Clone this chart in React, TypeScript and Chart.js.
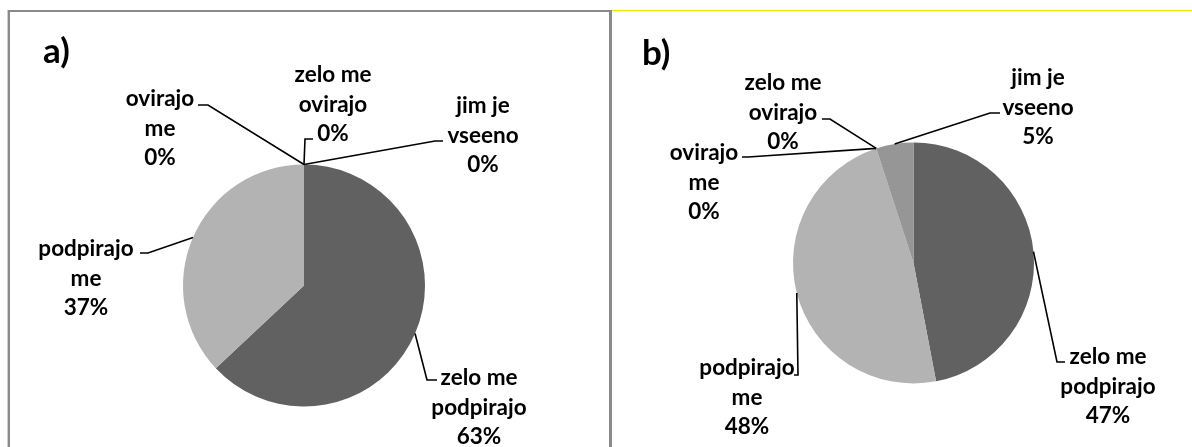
import React, { useEffect, useRef } from 'react';
import { Chart, registerables } from 'chart.js';

Chart.register(...registerables);

// ---- data ----
const categories = ['zelo me podpirajo', 'podpirajo me', 'ovirajo me', 'zelo me ovirajo', 'jim je vseeno'];
const categoryLines = [
  ['zelo me', 'podpirajo'],
  ['podpirajo', 'me'],
  ['ovirajo', 'me'],
  ['zelo me', 'ovirajo'],
  ['jim je', 'vseeno'],
];
const valuesA = [63, 37, 0, 0, 0];
const valuesB = [47, 48, 0, 0, 5];
const panelTitles = ['a)', 'b)'];

// ---- styles / layout ----
const sliceColors = ['#616161', '#b3b3b3', '#7f7f7f', '#cccccc', '#969696'];
const FONT = 'Lato, "Open Sans", sans-serif';
const LINE_H = 29.5;

type LabelPos = { cx: number; y: number; elbow: [number, number]; tail: [number, number] };

const layoutA: LabelPos[] = [
  { cx: 479, y: 378, elbow: [427, 380], tail: [437, 380] },
  { cx: 86, y: 249, elbow: [148, 253], tail: [140, 253] },
  { cx: 160, y: 99, elbow: [208, 105], tail: [198, 105] },
  { cx: 333, y: 75, elbow: [305, 139], tail: [313, 139] },
  { cx: 483, y: 106, elbow: [435, 141], tail: [443, 141] },
];
const layoutB: LabelPos[] = [
  { cx: 496, y: 357, elbow: [445, 362], tail: [453, 362] },
  { cx: 135, y: 368, elbow: [186, 375], tail: [182, 375] },
  { cx: 92, y: 153, elbow: [136, 157], tail: [130, 157] },
  { cx: 171, y: 83, elbow: [218, 119], tail: [210, 119] },
  { cx: 426, y: 78, elbow: [378, 113], tail: [388, 113] },
];

function makeLabelPlugin(layout: LabelPos[], title: string, titlePos: [number, number]) {
  return {
    id: 'pieLabels',
    afterDatasetsDraw(chart: any) {
      const ctx = chart.ctx as CanvasRenderingContext2D;
      const meta = chart.getDatasetMeta(0);
      const values = chart.data.datasets[0].data as number[];
      ctx.save();
      layout.forEach((L, i) => {
        const arc: any = meta.data[i];
        const mid = (arc.startAngle + arc.endAngle) / 2;
        const ex = arc.x + Math.cos(mid) * arc.outerRadius;
        const ey = arc.y + Math.sin(mid) * arc.outerRadius;
        ctx.strokeStyle = '#000';
        ctx.lineWidth = 1.6;
        ctx.beginPath();
        ctx.moveTo(ex, ey);
        ctx.lineTo(L.elbow[0], L.elbow[1]);
        ctx.lineTo(L.tail[0], L.tail[1]);
        ctx.stroke();
        const lines = [...categoryLines[i], `${values[i]}%`];
        ctx.font = `bold 22.5px ${FONT}`;
        ctx.textAlign = 'center';
        ctx.textBaseline = 'middle';
        ctx.fillStyle = '#000';
        lines.forEach((t, k) => ctx.fillText(t, L.cx, L.y + k * LINE_H));
      });
      ctx.font = `bold 35px ${FONT}`;
      ctx.textAlign = 'left';
      ctx.textBaseline = 'alphabetic';
      ctx.fillStyle = '#000';
      ctx.fillText(title, titlePos[0], titlePos[1]);
      ctx.restore();
    },
  };
}

type PanelProps = {
  values: number[];
  layout: LabelPos[];
  title: string;
  titlePos: [number, number];
  left: number;
  width: number;
  padding: { left: number; right: number; top: number; bottom: number };
};

function PiePanel({ values, layout, title, titlePos, left, width, padding }: PanelProps) {
  const ref = useRef<HTMLCanvasElement>(null);
  useEffect(() => {
    if (!ref.current) return;
    const chart = new Chart(ref.current, {
      type: 'pie',
      data: {
        labels: categories,
        datasets: [{ data: values, backgroundColor: sliceColors, borderWidth: 0, hoverOffset: 0 }],
      },
      options: {
        responsive: false,
        animation: false,
        events: [],
        layout: { padding },
        plugins: { legend: { display: false }, tooltip: { enabled: false } },
      },
      plugins: [makeLabelPlugin(layout, title, titlePos)],
    } as any);
    return () => chart.destroy();
  }, []);
  return (
    <canvas
      ref={ref}
      width={width}
      height={447}
      style={{ position: 'absolute', left, top: 0, width, height: 447 }}
    />
  );
}

export default function App() {
  const line = (l: number, t: number, w: number, h: number, c: string) => (
    <div style={{ position: 'absolute', left: l, top: t, width: w, height: h, background: c, zIndex: 2 }} />
  );
  return (
    <div style={{ position: 'fixed', left: 0, top: 0, width: 1192, height: 447, background: '#fff', overflow: 'hidden' }}>
      <PiePanel
        values={valuesA}
        layout={layoutA}
        title={panelTitles[0]}
        titlePos={[43, 63]}
        left={0}
        width={609}
        padding={{ left: 183, right: 184, top: 164.5, bottom: 40.5 }}
      />
      <PiePanel
        values={valuesB}
        layout={layoutB}
        title={panelTitles[1]}
        titlePos={[30, 65]}
        left={612}
        width={580}
        padding={{ left: 181, right: 158, top: 142.5, bottom: 63.5 }}
      />
      {line(7, 10, 1, 437, '#e8e800')}
      {line(8, 10, 2, 437, '#8a8a8a')}
      {line(8, 10, 602, 2, '#8a8a8a')}
      {line(609, 10, 3, 437, '#8a8a8a')}
      {line(612, 10, 580, 1, '#e8e800')}
    </div>
  );
}
